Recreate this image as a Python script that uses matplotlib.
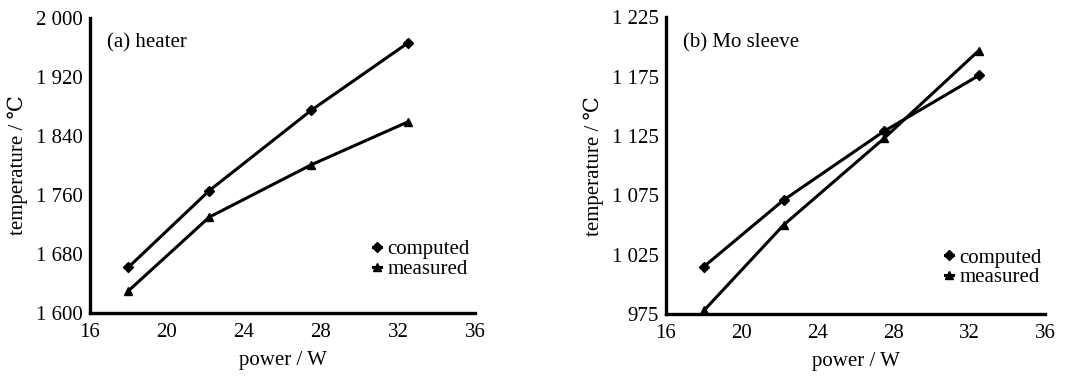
import matplotlib.pyplot as plt

plt.rcParams['font.family'] = ['Liberation Serif', 'DejaVu Serif']

# data
power = [18.0, 22.2, 27.5, 32.5]
heater_computed = [1662, 1766, 1875, 1966]
heater_measured = [1630, 1730, 1801, 1859]
sleeve_computed = [1015, 1071, 1129, 1176]
sleeve_measured = [978, 1050, 1123, 1197]

x_ticks = [16, 20, 24, 28, 32, 36]
heater_ticks = [1600, 1680, 1760, 1840, 1920, 2000]
sleeve_ticks = [975, 1025, 1075, 1125, 1175, 1225]


def fmt(v):
    return '{:,}'.format(v).replace(',', ' ')


def style_axes(ax, yticks, title, legend_y):
    ax.set_xlim(16, 36)
    ax.set_ylim(yticks[0], yticks[-1])
    ax.set_xticks(x_ticks)
    ax.set_yticks(yticks)
    ax.set_yticklabels([fmt(v) for v in yticks])
    ax.tick_params(axis='y', length=0, labelsize=15, pad=5)
    ax.tick_params(axis='x', length=0, labelsize=15, pad=7)
    for s in ['top', 'right']:
        ax.spines[s].set_visible(False)
    for s in ['left', 'bottom']:
        ax.spines[s].set_linewidth(2.4)
    ax.set_xlabel('power / W', fontsize=15, labelpad=7)
    ax.set_ylabel('temperature / \u2103', fontsize=15, labelpad=6)
    ax.text(0.045, 0.9, title, transform=ax.transAxes, fontsize=15)
    ax.legend(loc='lower left', bbox_to_anchor=(0.735, legend_y), frameon=False,
              fontsize=15, handlelength=0.4, handletextpad=0.3,
              labelspacing=0.0, borderpad=0, borderaxespad=0)


fig = plt.figure(figsize=(10.8, 3.77), dpi=100)
ax1 = fig.add_axes([0.0833, 0.17, 0.3565, 0.782])
ax2 = fig.add_axes([0.6167, 0.167, 0.351, 0.787])

ax1.plot(power, heater_computed, color='black', lw=2.2, marker='D', ms=5, label='computed')
ax1.plot(power, heater_measured, color='black', lw=2.2, marker='^', ms=6, label='measured')
style_axes(ax1, heater_ticks, '(a) heater', 0.115)

ax2.plot(power, sleeve_computed, color='black', lw=2.2, marker='D', ms=5, label='computed')
ax2.plot(power, sleeve_measured, color='black', lw=2.2, marker='^', ms=6, label='measured')
style_axes(ax2, sleeve_ticks, '(b) Mo sleeve', 0.09)

fig.savefig('out.png', dpi=100)
